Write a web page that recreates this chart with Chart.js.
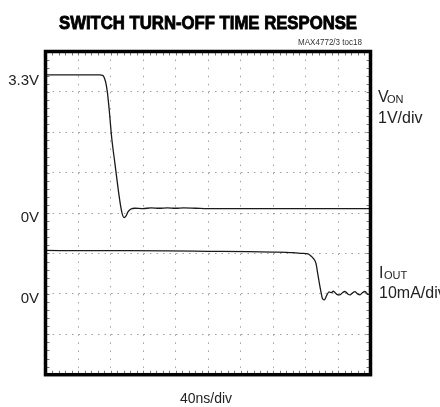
<!DOCTYPE html>
<html>
<head>
<meta charset="utf-8">
<script src="https://cdn.jsdelivr.net/npm/chart.js@4/dist/chart.umd.min.js"></script>
<style>
  html, body { margin: 0; padding: 0; background: #fff; }
  #scope { display: block; }
</style>
</head>
<body>
<canvas id="scope" width="440" height="407"></canvas>
<script>
// V_ON trace (time in ns, volts) - 1V/div
const vonTime = [0, 30, 67, 70.4, 72.6, 74.5, 76.3, 78.2, 81.5, 85.5, 89.6, 92.3, 94.2, 96.6, 99.1, 101.5, 105.2, 110, 120, 130, 140, 150, 160, 170, 185, 200, 250, 300, 350, 400];
const vonVolts = [3.42, 3.42, 3.42, 3.41, 3.34, 3.2, 2.97, 2.6, 1.86, 1.22, 0.57, 0.2, 0.0, -0.11, -0.07, 0.03, 0.1, 0.12, 0.11, 0.13, 0.12, 0.13, 0.12, 0.13, 0.12, 0.11, 0.11, 0.11, 0.11, 0.11];

// I_OUT trace (time in ns, mA) - 10mA/div
const ioutTime = [0, 50, 100, 150, 200, 250, 280, 305, 315, 323.1, 326.8, 329.6, 332.9, 335, 336.6, 337.8, 339.3, 340.7, 343.1, 346, 349, 351.5, 354.2, 358.5, 362.4, 365.5, 368.6, 372, 374.8, 378, 380.9, 384, 387.1, 390, 393.2, 396.9, 400];
const ioutMilliamps = [10.75, 10.7, 10.7, 10.65, 10.55, 10.45, 10.35, 10.2, 10.05, 9.88, 9.38, 8.81, 7.57, 5.1, 3.19, 1.78, 0.22, -1.09, -1.5, -0.4, 0.5, 0.3, 0.65, -0.1, -0.25, 0.3, 0.6, 0.0, -0.25, 0.25, 0.55, 0.0, -0.25, 0.3, 0.6, -0.1, 0.15];

// graticule: 10 x 8 divisions
const nsPerDiv = 40;
const xDivs = 10;
const voltsPerDiv = 1;
const mAPerDiv = 10;

const toPoints = (xs, ys) => xs.map((x, i) => ({ x: x, y: ys[i] }));

// texts drawn round the plot
const scopeLabels = {
    title: 'SWITCH TURN-OFF TIME RESPONSE',
    tag: 'MAX4772/3 toc18',
    xLabel: '40ns/div'
};

const scopeText = {
    id: 'scopeText',
    beforeDatasetsDraw(chart) {
        const ctx = chart.ctx;
        const a = chart.chartArea;
        const x = chart.scales.x;
        const yV = chart.scales.yV;
        // small ticks on the inside of the frame, 5 per division
        ctx.save();
        ctx.strokeStyle = '#777';
        ctx.lineWidth = 1;
        ctx.beginPath();
        for (let t = 0; t <= xDivs * nsPerDiv; t += nsPerDiv / 5) {
            const px = Math.round(x.getPixelForValue(t)) + 0.5;
            ctx.moveTo(px, a.top); ctx.lineTo(px, a.top + 4);
            ctx.moveTo(px, a.bottom); ctx.lineTo(px, a.bottom - 4);
        }
        for (let v = -4; v <= 4; v += 0.2) {
            const py = Math.round(yV.getPixelForValue(v)) + 0.5;
            ctx.moveTo(a.left, py); ctx.lineTo(a.left + 4, py);
            ctx.moveTo(a.right, py); ctx.lineTo(a.right - 4, py);
        }
        ctx.stroke();
        ctx.restore();
    },
    afterDraw(chart) {
        const ctx = chart.ctx;
        const a = chart.chartArea;
        const yV = chart.scales.yV;
        const yI = chart.scales.yI;
        ctx.save();
        // frame
        ctx.strokeStyle = '#000';
        ctx.lineWidth = 3.5;
        ctx.strokeRect(a.left, a.top, a.right - a.left, a.bottom - a.top);

        // heavy condensed title
        ctx.fillStyle = '#000';
        ctx.strokeStyle = '#000';
        ctx.lineWidth = 0.9;
        ctx.textBaseline = 'alphabetic';
        ctx.font = 'bold 19px "Liberation Sans", Arial, sans-serif';
        ctx.textAlign = 'center';
        ctx.fillText(scopeLabels.title, 208, 29, 298);
        ctx.strokeText(scopeLabels.title, 208, 29, 298);

        ctx.fillStyle = '#333';
        ctx.font = '8.5px "Liberation Sans", Arial, sans-serif';
        ctx.textAlign = 'right';
        ctx.fillText(scopeLabels.tag, 362, 45, 64);

        ctx.fillStyle = '#222';
        ctx.font = '15px "Liberation Sans", Arial, sans-serif';
        ctx.textAlign = 'right';
        ctx.fillText('3.3V', 39, 85);
        ctx.fillText('0V', 39, yV.getPixelForValue(0) + 8.5);
        ctx.fillText('0V', 39, yI.getPixelForValue(0) + 9.5);

        ctx.textAlign = 'left';
        ctx.font = '16px "Liberation Sans", Arial, sans-serif';
        ctx.fillText('V', 378, 101.7);
        ctx.fillText('1V/div', 378, 123.3);
        ctx.fillText('I', 379, 277.7);
        ctx.fillText('10mA/div', 379, 298.3);
        ctx.font = '11px "Liberation Sans", Arial, sans-serif';
        ctx.fillText('ON', 387, 102.5);
        ctx.fillText('OUT', 384, 278.5);

        ctx.textAlign = 'center';
        ctx.font = '14px "Liberation Sans", Arial, sans-serif';
        ctx.fillText(scopeLabels.xLabel, 206, 402.7);
        ctx.restore();
    }
};

const traceStyle = {
    borderColor: '#1a1a1a',
    borderWidth: 1.3,
    pointRadius: 0,
    fill: false,
    cubicInterpolationMode: 'monotone'
};

new Chart(document.getElementById('scope'), {
    type: 'line',
    data: {
        datasets: [
            Object.assign({ label: 'VON', data: toPoints(vonTime, vonVolts), yAxisID: 'yV' }, traceStyle),
            Object.assign({ label: 'IOUT', data: toPoints(ioutTime, ioutMilliamps), yAxisID: 'yI' }, traceStyle)
        ]
    },
    options: {
        responsive: false,
        animation: false,
        layout: { padding: { left: 45.5, top: 51.5, right: 69.5, bottom: 32.3 } },
        plugins: { legend: { display: false }, tooltip: { enabled: false }, title: { display: false } },
        scales: {
            x: {
                type: 'linear',
                min: 0,
                max: xDivs * nsPerDiv,
                ticks: { display: false, stepSize: nsPerDiv },
                grid: { color: '#a0a0a0', lineWidth: 1, drawTicks: false },
                border: { display: false, dash: [1.5, 6.58] }
            },
            yV: {
                position: 'left',
                min: -4 * voltsPerDiv,
                max: 4 * voltsPerDiv,
                ticks: { display: false, stepSize: voltsPerDiv },
                grid: { color: '#a0a0a0', lineWidth: 1, drawTicks: false },
                border: { display: false, dash: [1.5, 5] }
            },
            yI: {
                display: false,
                position: 'right',
                min: -2 * mAPerDiv,
                max: 6 * mAPerDiv
            }
        }
    },
    plugins: [scopeText]
});
</script>
</body>
</html>
